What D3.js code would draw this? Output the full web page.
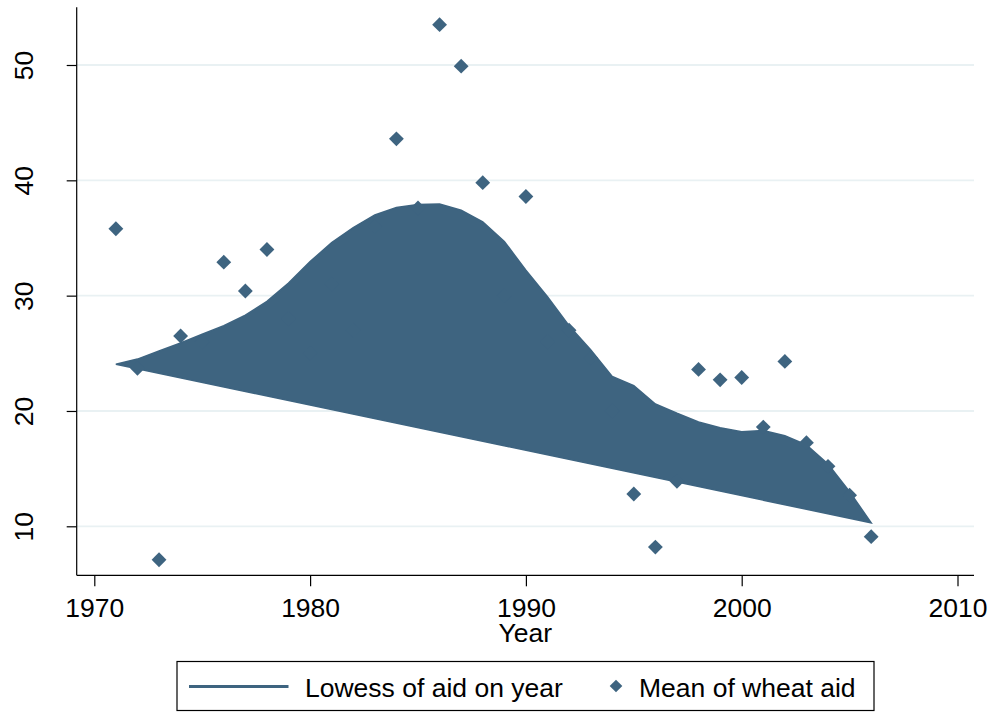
<!DOCTYPE html>
<html>
<head>
<meta charset="utf-8">
<script src="https://cdn.jsdelivr.net/npm/d3@7"></script>
<style>
  html, body { margin: 0; padding: 0; background: #fff; }
  svg { display: block; font-family: "Liberation Sans", Arial, sans-serif; }
</style>
</head>
<body>
<svg id="chart" width="995" height="712"></svg>
<script>
// ---- Data ----
const years = [1971,1972,1973,1974,1975,1976,1977,1978,1979,1980,1981,1982,1983,1984,1985,1986,1987,1988,1989,1990,1991,1992,1993,1994,1995,1996,1997,1998,1999,2000,2001,2002,2003,2004,2005,2006];
const lowessAid = [24.05,24.5,25.2,25.9,26.65,27.4,28.3,29.5,31.1,32.95,34.6,35.9,37.0,37.65,37.9,37.95,37.4,36.4,34.7,32.2,29.9,27.4,25.3,23.0,22.2,20.6,19.8,19.05,18.55,18.2,18.3,17.85,17.05,15.4,13.0,10.3];
const wheatAid = [35.8,23.7,7.1,26.5,26.0,32.9,30.4,34.0,28.0,25.0,31.0,27.0,36.0,43.6,37.6,53.5,49.9,39.8,30.0,38.6,26.0,27.0,24.6,20.0,12.8,8.2,13.9,23.6,22.7,22.9,18.6,24.3,17.25,15.2,12.7,9.1];
const xTicks = [1970,1980,1990,2000,2010];
const yTicks = [10,20,30,40,50];
const legendLabels = ["Lowess of aid on year", "Mean of wheat aid"];
const xTitle = "Year";

// ---- Layout ----
const color = "#3e6480";
const gridColor = "#e9f1f3";
const fontSize = 26.5;
const plot = { left: 76.7, right: 974, top: 7.3, bottom: 575.3 };

const svg = d3.select("#chart");

const x = d3.scaleLinear().domain([1970, 2010]).range([94.3, 957.5]);
const y = d3.scaleLinear().domain([10, 50]).range([526.3, 65]);

// gridlines
svg.append("g").selectAll("line").data(yTicks).join("line")
  .attr("x1", plot.left).attr("x2", plot.right)
  .attr("y1", d => y(d)).attr("y2", d => y(d))
  .attr("stroke", gridColor).attr("stroke-width", 1.8);

// lowess drawn as closed, filled path (as in the reference)
const pts = years.map((yr, i) => [x(yr), y(lowessAid[i])]);
const lineGen = d3.line();
svg.append("path")
  .attr("d", lineGen(pts) + "Z")
  .attr("fill", color)
  .attr("stroke", color)
  .attr("stroke-width", 1.5)
  .attr("stroke-linejoin", "miter");

// diamonds
const diamond = d3.symbol().type(d3.symbolSquare).size(110);
svg.append("g").selectAll("path").data(years).join("path")
  .attr("d", diamond)
  .attr("transform", (d, i) => `translate(${x(d)},${y(wheatAid[i])}) rotate(45)`)
  .attr("fill", color);

// X axis
const xAxis = d3.axisBottom(x).tickValues(xTicks).tickFormat(d3.format("d")).tickSize(11).tickPadding(11.5);
const gx = svg.append("g").attr("transform", `translate(0,${plot.bottom})`).call(xAxis);
gx.select(".domain").remove();
gx.selectAll(".tick line").attr("stroke", "#000").attr("stroke-width", 1.2);
gx.selectAll(".tick text").attr("font-size", fontSize).attr("fill", "#000")
  .attr("font-family", "Liberation Sans, Arial, sans-serif");
svg.append("line").attr("x1", plot.left).attr("x2", plot.right)
  .attr("y1", plot.bottom).attr("y2", plot.bottom).attr("stroke", "#000").attr("stroke-width", 1.2);

// Y axis
const yAxis = d3.axisLeft(y).tickValues(yTicks).tickSize(10).tickFormat(d3.format("d"));
const gy = svg.append("g").attr("transform", `translate(${plot.left},0)`).call(yAxis);
gy.select(".domain").remove();
gy.selectAll(".tick line").attr("stroke", "#000").attr("stroke-width", 1.2);
gy.selectAll(".tick text").remove();
gy.selectAll(".tick").append("text")
  .attr("transform", `translate(${33.5 - plot.left},0) rotate(-90)`)
  .attr("text-anchor", "middle")
  .attr("font-size", fontSize).attr("fill", "#000")
  .attr("font-family", "Liberation Sans, Arial, sans-serif")
  .text(d => d);
svg.append("line").attr("x1", plot.left).attr("x2", plot.left)
  .attr("y1", plot.top).attr("y2", plot.bottom).attr("stroke", "#000").attr("stroke-width", 1.2);

// X title
svg.append("text").attr("x", (plot.left + plot.right) / 2).attr("y", 641.7)
  .attr("text-anchor", "middle").attr("font-size", fontSize).attr("fill", "#000")
  .text(xTitle);

// Legend
const lg = svg.append("g");
lg.append("rect").attr("x", 177).attr("y", 661.5).attr("width", 697).attr("height", 49)
  .attr("fill", "#fff").attr("stroke", "#000").attr("stroke-width", 1.2);
lg.append("line").attr("x1", 189).attr("x2", 288.5).attr("y1", 686.5).attr("y2", 686.5)
  .attr("stroke", color).attr("stroke-width", 2.8);
lg.append("text").attr("x", 305).attr("y", 697.3).attr("font-size", fontSize).attr("fill", "#000")
  .text(legendLabels[0]);
lg.append("path").attr("d", d3.symbol().type(d3.symbolSquare).size(80))
  .attr("transform", "translate(616,686) rotate(45)").attr("fill", color);
lg.append("text").attr("x", 639).attr("y", 697.3).attr("font-size", fontSize).attr("fill", "#000")
  .text(legendLabels[1]);
</script>
</body>
</html>
